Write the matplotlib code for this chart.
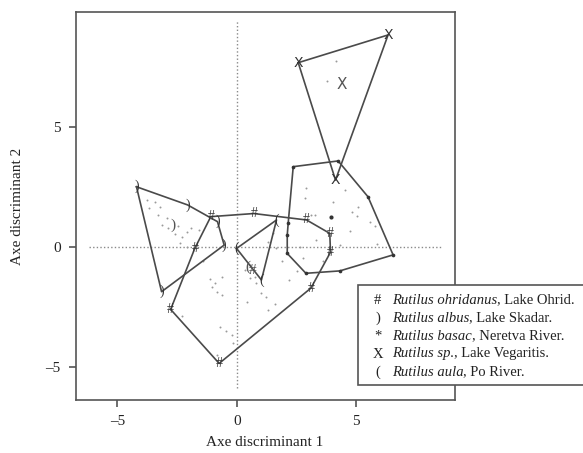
import matplotlib
matplotlib.use("Agg")
import matplotlib.pyplot as plt
from matplotlib.patches import Rectangle
import numpy as np

plt.rcParams['font.family'] = ['Liberation Serif', 'DejaVu Serif']

# ---- data (discriminant scores) ----
species = ["Rutilus ohridanus", "Rutilus albus", "Rutilus basac", "Rutilus sp.", "Rutilus aula"]
places = ["Lake Ohrid.", "Lake Skadar.", "Neretva River.", "Lake Vegaritis.", "Po River."]
symbols = ["#", ")", "*", "X", "("]

# marked points (hull vertices / edge points)
ohr_x = [-1.09, -1.76, -2.77, -0.74, 3.10, 3.92, 3.89, 2.92, 0.71]
ohr_y = [1.27, -0.06, -2.61, -4.87, -1.72, -0.22, 0.57, 1.13, 1.40]
alb_x = [-4.20, -2.06, -0.81, -0.53, -3.15]
alb_y = [2.52, 1.76, 1.06, 0.08, -1.87]
bas_x = [2.36, 4.24, 5.49, 6.54, 4.31, 2.89, 2.11, 2.11, 2.15]
bas_y = [3.36, 3.60, 2.10, -0.33, -1.00, -1.10, -0.27, 0.50, 1.00]
sp_x = [2.57, 6.33, 4.13]
sp_y = [7.71, 8.87, 2.80]
aul_x = [-0.01, 1.66, 1.03]
aul_y = [-0.06, 1.13, -1.38]

# interior individuals (small dots)
ohr_dx = [-1.13, -0.92, -0.64, -1.06, -0.85, -0.60, -2.31, -0.71, -0.46, -0.22, -0.18, -0.85,
          0.41, 0.54, 0.82, 1.03, 1.24, 1.31, -1.4, -1.6, 1.6, 2.2, 2.5, 1.9]
ohr_dy = [-1.35, -1.49, -1.24, -1.69, -1.87, -2.01, -2.89, -3.33, -3.50, -3.68, -4.00, -4.52,
          -2.29, -1.31, -1.52, -1.94, -2.08, -2.64, -0.6, 0.7, -2.4, -1.4, -1.0, -0.6]
alb_dx = [-3.78, -3.43, -3.22, -3.68, -3.29, -2.94, -3.15, -2.87, -2.46, -2.59, -2.31, -2.10,
          -2.38, -2.10, -1.90]
alb_dy = [1.97, 1.87, 1.69, 1.62, 1.34, 1.20, 0.92, 0.81, 0.89, 0.53, 0.43, 0.64,
          0.15, 0.01, 0.78]
bas_dx = [2.89, 2.85, 4.03, 4.52, 5.08, 4.80, 5.01, 5.56, 5.77, 4.73, 3.26, 3.33, 5.85, 2.64,
          2.77, 3.12, 3.6, 4.3]
bas_dy = [2.45, 2.04, 1.90, 2.38, 1.69, 1.45, 1.30, 1.06, 0.89, 0.67, 1.34, 0.29, 0.11, 0.01,
          -0.47, 1.34, -0.6, 0.1]
sp_dx = [4.17, 3.79]
sp_dy = [7.80, 6.96]
aul_dx = [1.52, 1.31, 1.66, 0.54, 0.33, 0.75]
aul_dy = [0.57, 0.22, -0.06, -0.75, -0.96, -1.24]

# group centroids
cen_sym = [")", "X", "#", "("]
cen_x = [-2.66, 4.41, 0.66, 0.45]
cen_y = [0.92, 6.81, -1.00, -0.85]
bas_cx, bas_cy = [3.96], [1.27]

xticks = [-5, 0, 5]
yticks = [-5, 0, 5]
tick_labels = ["\u20135", "0", "5"]


def hull(xs, ys):
    pts = sorted(set(zip(xs, ys)))
    def cross(o, a, b):
        return (a[0]-o[0])*(b[1]-o[1]) - (a[1]-o[1])*(b[0]-o[0])
    lower, upper = [], []
    for p in pts:
        while len(lower) >= 2 and cross(lower[-2], lower[-1], p) <= 0:
            lower.pop()
        lower.append(p)
    for p in reversed(pts):
        while len(upper) >= 2 and cross(upper[-2], upper[-1], p) <= 0:
            upper.pop()
        upper.append(p)
    h = lower[:-1] + upper[:-1]
    h.append(h[0])
    return [p[0] for p in h], [p[1] for p in h]


fig = plt.figure(figsize=(5.83, 4.53), dpi=100)
ax = fig.add_axes([0.130, 0.117, 0.650, 0.8565])
ax.set_xlim(-6.74, 9.12)
ax.set_ylim(-6.40, 9.83)

lc = "#4a4a4a"
dotc = "#9a9a9a"

# crosshair
ax.plot([-6.2, 8.6], [0, 0], linestyle=(0, (1, 1.6)), color="#8a8a8a", lw=1.0, zorder=1)
ax.plot([0, 0], [-5.9, 9.5], linestyle=(0, (1, 1.6)), color="#8a8a8a", lw=1.0, zorder=1)

groups = [(ohr_x, ohr_y, ohr_dx, ohr_dy, "#"),
          (alb_x, alb_y, alb_dx, alb_dy, ")"),
          (bas_x, bas_y, bas_dx, bas_dy, "*"),
          (sp_x, sp_y, sp_dx, sp_dy, "X"),
          (aul_x, aul_y, aul_dx, aul_dy, "(")]

for gx, gy, dx, dy, sym in groups:
    hx, hy = hull(gx, gy)
    ax.plot(hx, hy, color=lc, lw=1.2, zorder=3)
    ax.scatter(dx, dy, s=2, color=dotc, zorder=2, linewidths=0)
    if sym == "*":
        ax.scatter(gx, gy, s=7, color="#333333", zorder=4, linewidths=0)
    else:
        for x, y in zip(gx, gy):
            ax.text(x, y, sym, ha="center", va="center", fontsize=10,
                    color="#333333", zorder=4,
                    family=["DejaVu Sans"] if sym == "X" else None)

for s, x, y in zip(cen_sym, cen_x, cen_y):
    ax.text(x, y, s, ha="center", va="center", fontsize=11, color="#555555", zorder=4,
            family=["DejaVu Sans"] if s == "X" else None)
ax.scatter(bas_cx, bas_cy, s=9, color="#333333", zorder=4, linewidths=0)

ax.set_xticks(xticks)
ax.set_xticklabels(tick_labels)
ax.set_yticks(yticks)
ax.set_yticklabels(tick_labels)
ax.tick_params(direction="out", length=5, width=1.2, color="#555555",
               labelsize=11, labelcolor="#222222", pad=6)
for sp in ax.spines.values():
    sp.set_color("#555555")
    sp.set_linewidth(1.2)

fig.text(265 / 583, 1 - 443 / 453, "Axe discriminant 1", ha="center", va="center",
         fontsize=11, color="#222222")
fig.text(18 / 583, 1 - 206 / 453, "Axe discriminant 2", ha="center", va="center",
         rotation=90, fontsize=11, color="#222222")

# legend box (extends past the axes)
rect = Rectangle((0.614, 0.150), 0.40, 0.221, transform=fig.transFigure,
                 facecolor="white", edgecolor="#555555", lw=1.2, zorder=10, clip_on=False)
fig.patches.append(rect)
ly0 = 1 - 300 / 453
dy = 18 / 453
fig.canvas.draw()
for i, (sp_, pl, sym) in enumerate(zip(species, places, symbols)):
    y = ly0 - i * dy
    fig.text(0.648, y, sym, ha="center", va="center", fontsize=10.5, color="#222222", zorder=11)
    t = fig.text(0.672, y, sp_, ha="left", va="center", fontsize=10.5, style="italic",
                 color="#222222", zorder=11)
    bb = t.get_window_extent(renderer=fig.canvas.get_renderer())
    xr = bb.x1 / fig.bbox.width
    fig.text(xr, y, ", " + pl, ha="left", va="center", fontsize=10.5, color="#222222", zorder=11)

fig.savefig("out.png", dpi=100)
